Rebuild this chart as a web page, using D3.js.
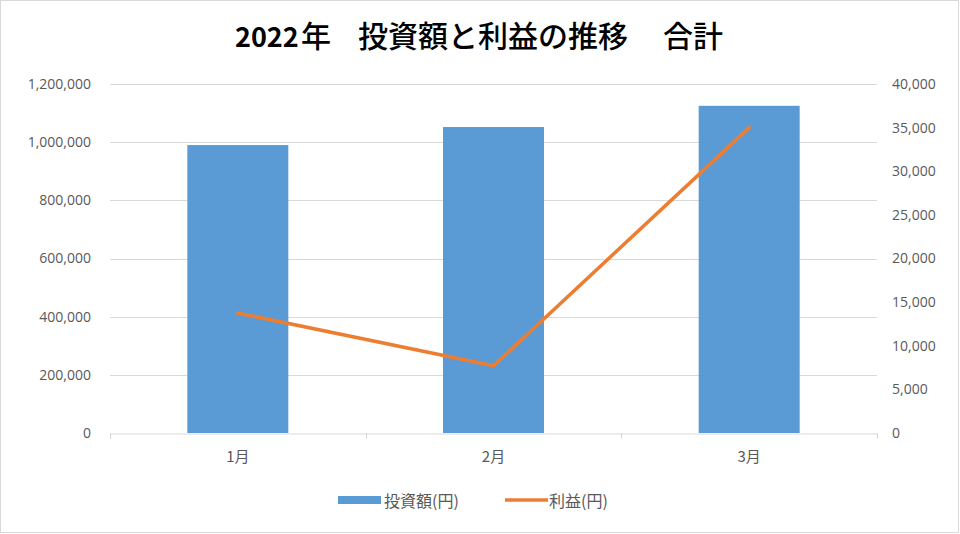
<!DOCTYPE html>
<html><head><meta charset="utf-8">
<script src="https://cdn.jsdelivr.net/npm/d3@7"></script>
<style>html,body{margin:0;padding:0;background:#fff}</style>
</head><body>
<script>
const categories = ["1月", "2月", "3月"];
const investment = [990000, 1052000, 1125000];
const profit = [13750, 7700, 35000];
const leftTicks = [0, 200000, 400000, 600000, 800000, 1000000, 1200000];
const rightTicks = [0, 5000, 10000, 15000, 20000, 25000, 30000, 35000, 40000];
const titleParts = ["2022", "年", "投資額と利益の推移", "合計"];
const seriesNames = ["投資額(円)", "利益(円)"];

const W = 960, H = 534;
const font = "'Noto Sans CJK JP', 'Noto Sans', sans-serif";
const numFont = "'Open Sans', 'Noto Sans', sans-serif";
const svg = d3.select("body").append("svg").attr("width", W).attr("height", H);
svg.append("rect").attr("x", 0.5).attr("y", 0.5).attr("width", W - 2).attr("height", H - 2)
  .attr("fill", "#fff").attr("stroke", "#d9d9d9");

const L = 110, R = 877, T = 84, B = 433;
const xb = d3.scaleBand().domain(categories).range([L, R]);
const yL = d3.scaleLinear().domain([0, 1200000]).range([B, T]);
const yR = d3.scaleLinear().domain([0, 40000]).range([B, T]);
const fmt = d3.format(",");

// gridlines
svg.append("g").selectAll("line").data(leftTicks.slice(1)).join("line")
  .attr("x1", L).attr("x2", R).attr("y1", d => Math.round(yL(d)) + 0.5).attr("y2", d => Math.round(yL(d)) + 0.5)
  .attr("stroke", "#d9d9d9").attr("stroke-width", 1);

// bars
svg.append("g").selectAll("rect").data(investment).join("rect")
  .attr("x", (d, i) => xb(categories[i]) + xb.bandwidth() / 2 - 50.5)
  .attr("width", 101)
  .attr("y", d => yL(d)).attr("height", d => B - yL(d))
  .attr("fill", "#5b9bd5");

// bottom axis
const xAxis = d3.axisBottom(xb).tickSize(0).tickPadding(18);
const gx = svg.append("g").attr("transform", `translate(0,${B + 0.5})`).call(xAxis);
gx.select(".domain").attr("stroke", "#d9d9d9");
gx.selectAll("text").attr("font-family", font).attr("font-size", 15).attr("fill", "#595959");
const bounds = categories.map(c => xb(c)).concat([R]);
svg.append("g").selectAll("line").data(bounds).join("line")
  .attr("x1", d => Math.round(d) + 0.5).attr("x2", d => Math.round(d) + 0.5)
  .attr("y1", B).attr("y2", B + 6).attr("stroke", "#d9d9d9");

// left axis
const gl = svg.append("g").attr("transform", `translate(${L},0)`)
  .call(d3.axisLeft(yL).tickValues(leftTicks).tickFormat(fmt).tickSize(0).tickPadding(19));
gl.select(".domain").remove();
gl.selectAll("text").attr("font-family", numFont).attr("font-size", 14).attr("fill", "#595959");

// right axis
const gr = svg.append("g").attr("transform", `translate(${R},0)`)
  .call(d3.axisRight(yR).tickValues(rightTicks).tickFormat(fmt).tickSize(0).tickPadding(15));
gr.select(".domain").remove();
gr.selectAll("text").attr("font-family", numFont).attr("font-size", 14).attr("fill", "#595959");

// line
const line = d3.line().x((d, i) => xb(categories[i]) + xb.bandwidth() / 2).y(d => yR(d));
svg.append("path").datum(profit).attr("d", line).attr("fill", "none")
  .attr("stroke", "#ed7d31").attr("stroke-width", 3.5).attr("stroke-linejoin", "round").attr("stroke-linecap", "round");

// title
const tt = svg.append("text").attr("y", 47)
  .attr("font-family", font).attr("fill", "#000");
const titleX = [235, 301, 358, 663];
const titleW = ["bold", "500", "500", "500"];
const titleS = [27, 30, 30, 30];
titleParts.forEach((p, i) => tt.append("tspan").attr("x", titleX[i]).attr("font-weight", titleW[i]).attr("font-size", titleS[i]).text(p));

// legend
const lg = svg.append("g");
lg.append("rect").attr("x", 338).attr("y", 496).attr("width", 43).attr("height", 8).attr("fill", "#5b9bd5");
lg.append("text").attr("x", 384).attr("y", 507).attr("font-family", font).attr("font-size", 16).attr("fill", "#595959").text(seriesNames[0]);
lg.append("line").attr("x1", 505).attr("x2", 548).attr("y1", 500).attr("y2", 500).attr("stroke", "#ed7d31").attr("stroke-width", 3.5);
lg.append("text").attr("x", 549).attr("y", 507).attr("font-family", font).attr("font-size", 16).attr("fill", "#595959").text(seriesNames[1]);
</script>
</body></html>
